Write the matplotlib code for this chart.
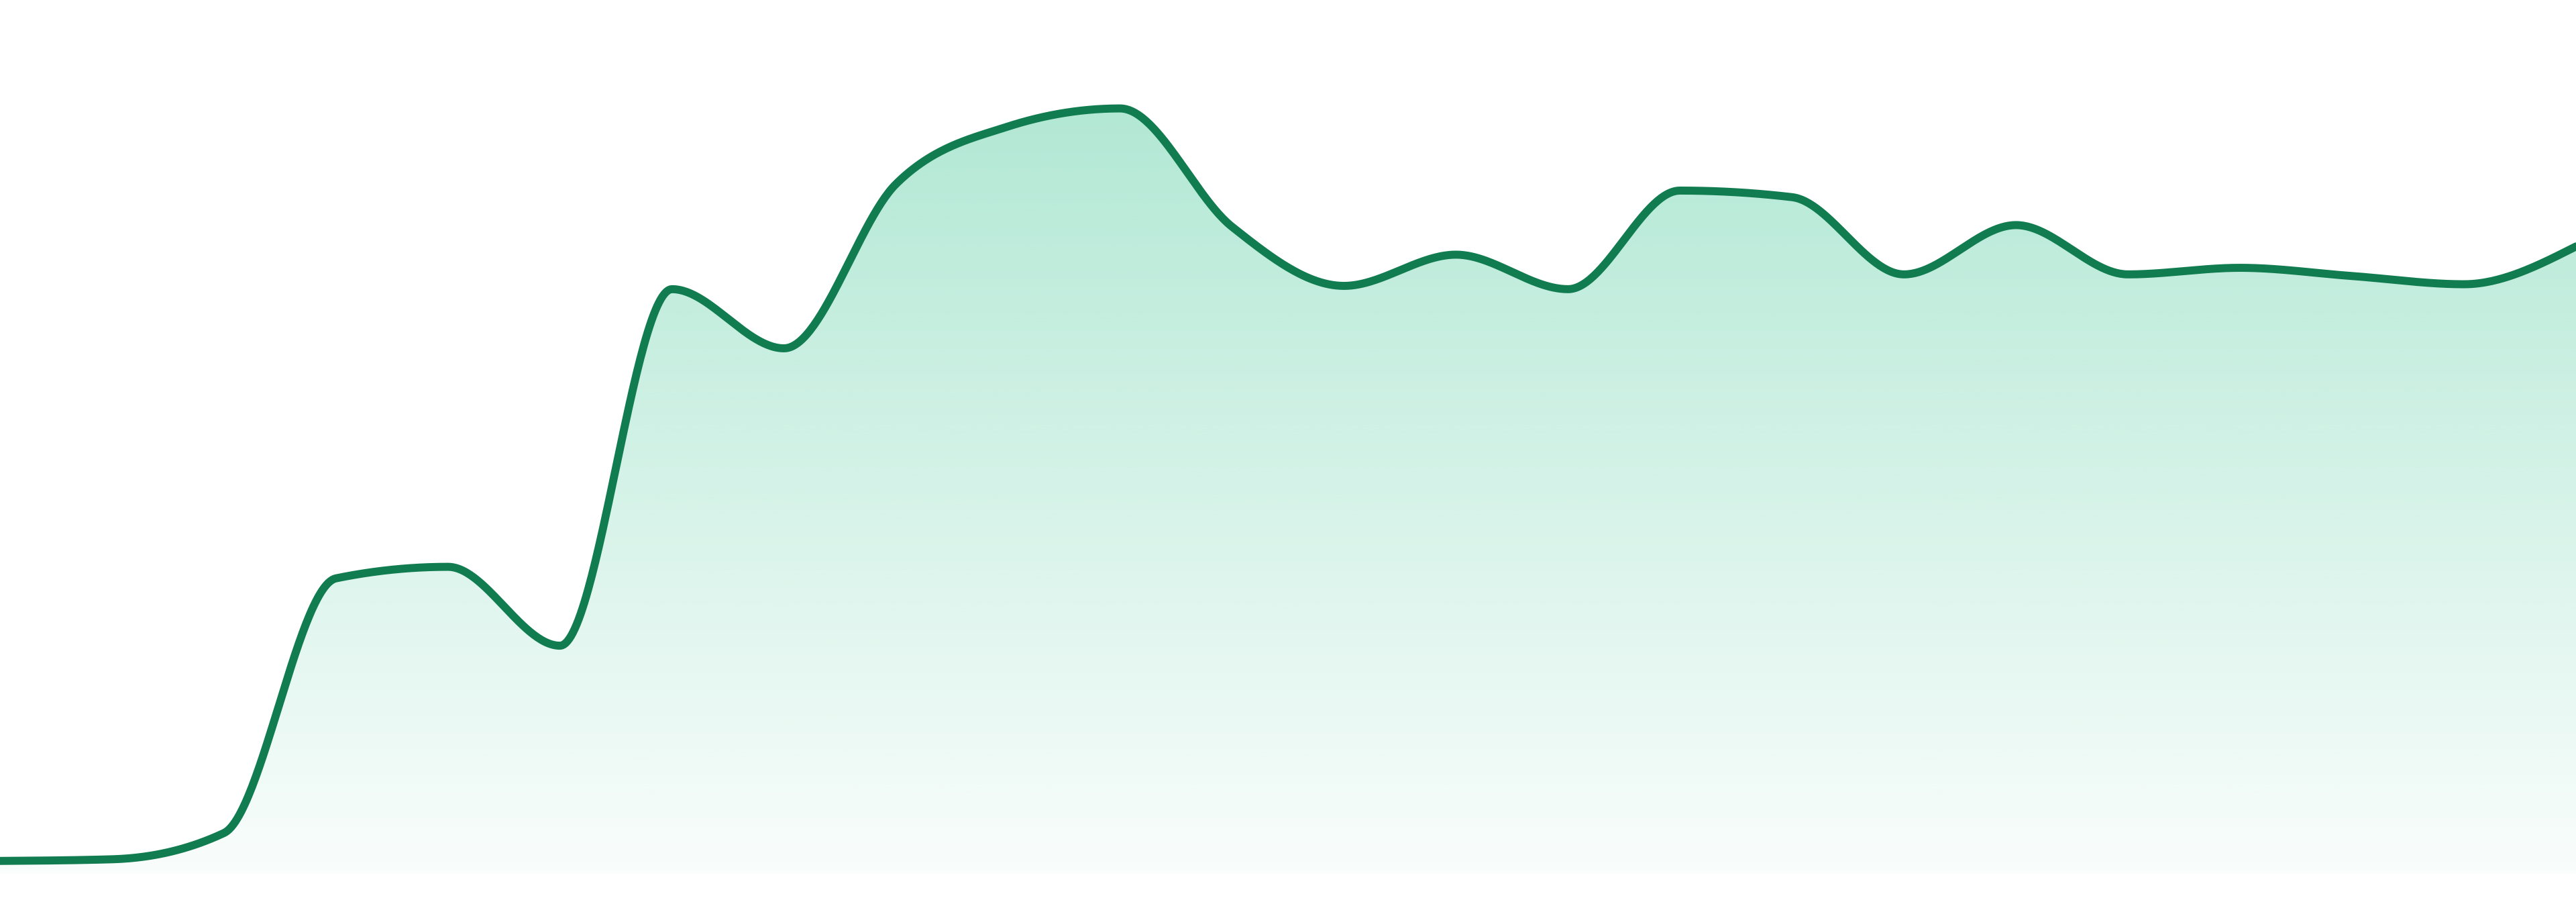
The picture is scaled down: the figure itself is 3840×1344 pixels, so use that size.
import numpy as np
import matplotlib
matplotlib.use("Agg")
import matplotlib.pyplot as plt
from matplotlib.patches import Polygon

# values (baseline = 0)
points = list(range(24))
values = [8, 9, 25, 180, 187, 139, 356, 320, 420, 455, 466, 394,
          358, 377, 356, 416, 412, 365, 395, 365, 369, 364, 359, 382]

line_color = "#117c50"
fill_rgb = (52 / 255, 195 / 255, 143 / 255)


def monotone_slopes(y):
    # same tangents as d3.curveMonotoneX for unit spacing
    y = np.asarray(y, dtype=float)
    n = len(y)
    s = np.diff(y)
    t = np.zeros(n)
    for i in range(1, n - 1):
        s0, s1 = s[i - 1], s[i]
        p = (s0 + s1) / 2
        t[i] = (np.sign(s0) + np.sign(s1)) * min(abs(s0), abs(s1), 0.5 * abs(p))
    t[0] = (3 * s[0] - t[1]) / 2
    t[-1] = (3 * s[-1] - t[-2]) / 2
    return t


def smooth(x, y, per_seg=60):
    t = monotone_slopes(y)
    xs, ys = [], []
    for i in range(len(x) - 1):
        u = np.linspace(0, 1, per_seg, endpoint=False)
        h00 = 2 * u**3 - 3 * u**2 + 1
        h10 = u**3 - 2 * u**2 + u
        h01 = -2 * u**3 + 3 * u**2
        h11 = u**3 - u**2
        xs.append(x[i] + u * (x[i + 1] - x[i]))
        ys.append(h00 * y[i] + h10 * t[i] + h01 * y[i + 1] + h11 * t[i + 1])
    xs.append([x[-1]])
    ys.append([y[-1]])
    return np.concatenate(xs), np.concatenate(ys)


fig = plt.figure(figsize=(38.4, 13.44), dpi=100)
ax = fig.add_axes([0, 0, 1, 1])
ax.set_xlim(0, 23)
ax.set_ylim(-17, 532)
ax.axis("off")

sx, sy = smooth(points, values)

# gradient fill under the curve
top = max(values)
grad = np.zeros((256, 2, 4))
grad[..., 0], grad[..., 1], grad[..., 2] = fill_rgb
alpha = np.linspace(0.03, 0.38, 256)
grad[..., 3] = alpha[:, None]
poly = Polygon(np.column_stack([np.r_[sx, sx[-1], sx[0]], np.r_[sy, 0, 0]]),
               closed=True, facecolor="none", edgecolor="none")
ax.add_patch(poly)
im = ax.imshow(grad, extent=[0, 23, 0, top], origin="lower",
               aspect="auto", interpolation="bilinear", zorder=1)
im.set_clip_path(poly)

ax.plot(sx, sy, color=line_color, linewidth=8.6, solid_capstyle="round",
        solid_joinstyle="round", zorder=3)

fig.savefig("out.png", dpi=100, facecolor="white")
